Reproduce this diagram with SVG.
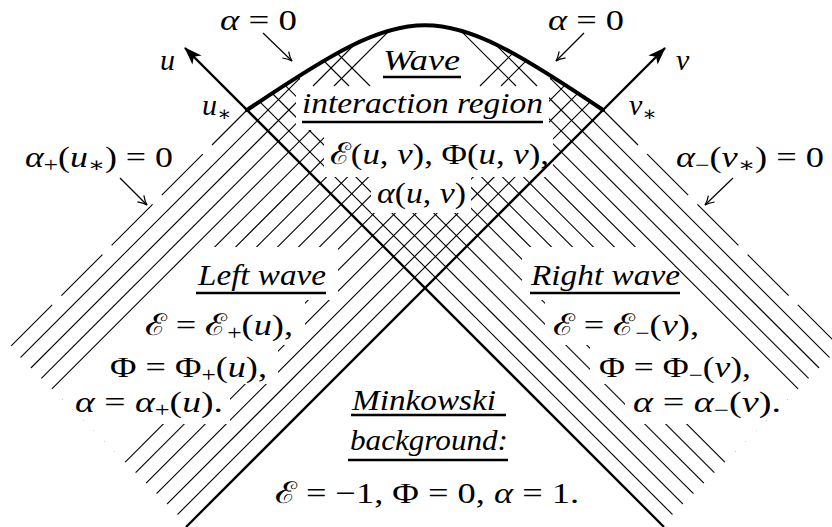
<svg xmlns="http://www.w3.org/2000/svg" width="832" height="527" viewBox="0 0 832 527">
<defs>
<style>
.h{stroke:#000;stroke-width:1.1;fill:none}
.ax{stroke:#000;stroke-width:2.3;fill:none}
.m{fill:#fff;stroke:none}
text{font-family:"Liberation Serif","DejaVu Serif",serif;font-size:30px;fill:#000}
.i{font-style:italic}
.s{font-size:21px}
.ul{stroke:#000;stroke-width:2.5}
.la{stroke:#000;stroke-width:1.2;fill:none;marker-end:url(#oa)}
</style>
<clipPath id="cl"><path d="M247,110 C415,-3 435,-3 603,110 L900,110 L900,600 L263,600 L-227,110 Z"/></clipPath>
<marker id="ah" markerUnits="userSpaceOnUse" viewBox="-19 -8 21 16" refX="0" refY="0" markerWidth="21" markerHeight="16" orient="auto"><path d="M1,0 L-17,-6.5 L-12.5,0 L-17,6.5 Z" fill="#000"/></marker>
<marker id="oa" markerUnits="userSpaceOnUse" viewBox="-11 -6 13 12" refX="0" refY="0" markerWidth="13" markerHeight="12" orient="auto"><path d="M-9,-4.5 Q-4,-1 0,0 Q-4,1 -9,4.5" fill="none" stroke="#000" stroke-width="1.2"/></marker>
</defs>
<rect width="832" height="527" fill="#fff"/>
<g id="hatching">
<g id="waveL" clip-path="url(#cl)" class="h">
<line x1="247" y1="110" x2="10" y2="347" stroke-dasharray="58 13" stroke-dashoffset="8.5"/>
<line x1="-222.06" y1="600" x2="387.94" y2="-10"/>
<line x1="-201.12" y1="600" x2="408.88" y2="-10"/>
<line x1="-180.18" y1="600" x2="429.82" y2="-10"/>
<line x1="-159.24" y1="600" x2="450.76" y2="-10"/>
<line x1="-138.3" y1="600" x2="471.7" y2="-10"/>
<line x1="-117.36" y1="600" x2="492.64" y2="-10"/>
<line x1="-96.42" y1="600" x2="513.58" y2="-10"/>
<line x1="-75.48" y1="600" x2="534.52" y2="-10"/>
<line x1="-54.54" y1="600" x2="555.46" y2="-10"/>
<line x1="-33.6" y1="600" x2="576.4" y2="-10"/>
<line x1="-12.66" y1="600" x2="597.34" y2="-10"/>
<line x1="8.28" y1="600" x2="618.28" y2="-10"/>
<line x1="29.22" y1="600" x2="639.22" y2="-10"/>
<line x1="50.16" y1="600" x2="660.16" y2="-10"/>
<line x1="71.1" y1="600" x2="681.1" y2="-10"/>
<line x1="92.04" y1="600" x2="702.04" y2="-10"/>
</g>
<use href="#waveL" transform="matrix(-1 0 0 1 850 0)"/>
</g>
<g id="masks" class="m">
<polygon points="205,247 338,247 338,300 305,300 305,345 278,345 278,384 230,384 230,424 153,424 120,457 57.5,394.5"/>
<polygon points="645,247 522,247 522,300 545,300 545,345 590,345 590,384 625,384 625,424 697,424 730,457 792.5,394.5"/>
<rect x="300" y="0" width="250" height="86"/>
<rect x="296" y="86" width="253" height="44"/>
<rect x="324" y="130" width="229" height="47"/>
<rect x="371" y="177" width="100" height="36"/>
</g>
<g id="top-hatch" clip-path="url(#cl)" class="h">
<line x1="313" y1="86" x2="373" y2="26"/>
<line x1="334" y1="86" x2="404" y2="16"/>
<line x1="349" y1="86" x2="299" y2="36"/>
<line x1="370" y1="86" x2="320" y2="36"/>
<line x1="537" y1="86" x2="477" y2="26"/>
<line x1="516" y1="86" x2="446" y2="16"/>
<line x1="501" y1="86" x2="551" y2="36"/>
<line x1="480" y1="86" x2="530" y2="36"/>
</g>
<g id="axes">
<line class="ax" x1="186" y1="527" x2="665" y2="48" marker-end="url(#ah)"/>
<line class="ax" x1="664" y1="527" x2="185" y2="48" marker-end="url(#ah)"/>
<path d="M247,110 C415,-3 435,-3 603,110" fill="none" stroke="#000" stroke-width="4" stroke-linecap="round"/>
</g>
<g id="label-arrows">
<line class="la" x1="263" y1="33" x2="292" y2="61"/>
<line class="la" x1="584" y1="33" x2="556" y2="61"/>
<line class="la" x1="120" y1="178" x2="147" y2="205"/>
<line class="la" x1="733" y1="178" x2="705" y2="205"/>
</g>
<g id="underlines" class="ul">
<line x1="383" y1="77" x2="461" y2="77"/>
<line x1="302" y1="122" x2="543" y2="122"/>
<line x1="196" y1="293" x2="326" y2="293"/>
<line x1="530" y1="293" x2="680" y2="293"/>
<line x1="351" y1="415" x2="506" y2="415"/>
<line x1="348" y1="460" x2="508" y2="460"/>
</g>
<g id="labels">
<text x="220" y="30" textLength="77" lengthAdjust="spacingAndGlyphs"><tspan class="i">α</tspan> = 0</text>
<text x="548" y="30" textLength="76" lengthAdjust="spacingAndGlyphs"><tspan class="i">α</tspan> = 0</text>
<text x="160" y="70" class="i">u</text>
<text x="676" y="70" class="i">v</text>
<text x="202" y="115"><tspan class="i">u</tspan><tspan class="s" dy="6">∗</tspan></text>
<text x="629" y="115"><tspan class="i">v</tspan><tspan class="s" dy="6">∗</tspan></text>
<text x="25" y="167" textLength="148" lengthAdjust="spacingAndGlyphs"><tspan class="i">α</tspan><tspan class="s" dy="5">+</tspan><tspan dy="-5">(</tspan><tspan class="i">u</tspan><tspan class="s" dy="5">∗</tspan><tspan dy="-5">) = 0</tspan></text>
<text x="676" y="167" textLength="148" lengthAdjust="spacingAndGlyphs"><tspan class="i">α</tspan><tspan class="s" dy="5">−</tspan><tspan dy="-5">(</tspan><tspan class="i">v</tspan><tspan class="s" dy="5">∗</tspan><tspan dy="-5">) = 0</tspan></text>
<text x="383" y="70" class="i" textLength="77" lengthAdjust="spacingAndGlyphs">Wave</text>
<text x="302" y="113" class="i" textLength="241" lengthAdjust="spacingAndGlyphs">interaction region</text>
<text x="330" y="164" textLength="219" lengthAdjust="spacingAndGlyphs">ℰ(<tspan class="i">u</tspan>, <tspan class="i">v</tspan>), Φ(<tspan class="i">u</tspan>, <tspan class="i">v</tspan>),</text>
<text x="377" y="203" textLength="89" lengthAdjust="spacingAndGlyphs"><tspan class="i">α</tspan>(<tspan class="i">u</tspan>, <tspan class="i">v</tspan>)</text>
<text x="198" y="285" class="i" textLength="128" lengthAdjust="spacingAndGlyphs">Left wave</text>
<text x="145" y="335" textLength="148" lengthAdjust="spacingAndGlyphs">ℰ = ℰ<tspan class="s" dy="5">+</tspan><tspan dy="-5">(</tspan><tspan class="i">u</tspan>),</text>
<text x="110" y="377" textLength="157" lengthAdjust="spacingAndGlyphs">Φ = Φ<tspan class="s" dy="5">+</tspan><tspan dy="-5">(</tspan><tspan class="i">u</tspan>),</text>
<text x="75" y="412" textLength="148" lengthAdjust="spacingAndGlyphs"><tspan class="i">α</tspan> = <tspan class="i">α</tspan><tspan class="s" dy="5">+</tspan><tspan dy="-5">(</tspan><tspan class="i">u</tspan>).</text>
<text x="531" y="285" class="i" textLength="149" lengthAdjust="spacingAndGlyphs">Right wave</text>
<text x="553" y="335" textLength="146" lengthAdjust="spacingAndGlyphs">ℰ = ℰ<tspan class="s" dy="5">−</tspan><tspan dy="-5">(</tspan><tspan class="i">v</tspan>),</text>
<text x="599" y="377" textLength="152" lengthAdjust="spacingAndGlyphs">Φ = Φ<tspan class="s" dy="5">−</tspan><tspan dy="-5">(</tspan><tspan class="i">v</tspan>),</text>
<text x="633" y="412" textLength="148" lengthAdjust="spacingAndGlyphs"><tspan class="i">α</tspan> = <tspan class="i">α</tspan><tspan class="s" dy="5">−</tspan><tspan dy="-5">(</tspan><tspan class="i">v</tspan>).</text>
<text x="352" y="410" class="i" textLength="144" lengthAdjust="spacingAndGlyphs">Minkowski</text>
<text x="350" y="450" class="i" textLength="158" lengthAdjust="spacingAndGlyphs">background:</text>
<text x="275" y="503" textLength="304" lengthAdjust="spacingAndGlyphs">ℰ = −1, Φ = 0, <tspan class="i">α</tspan> = 1.</text>
</g>
</svg>
